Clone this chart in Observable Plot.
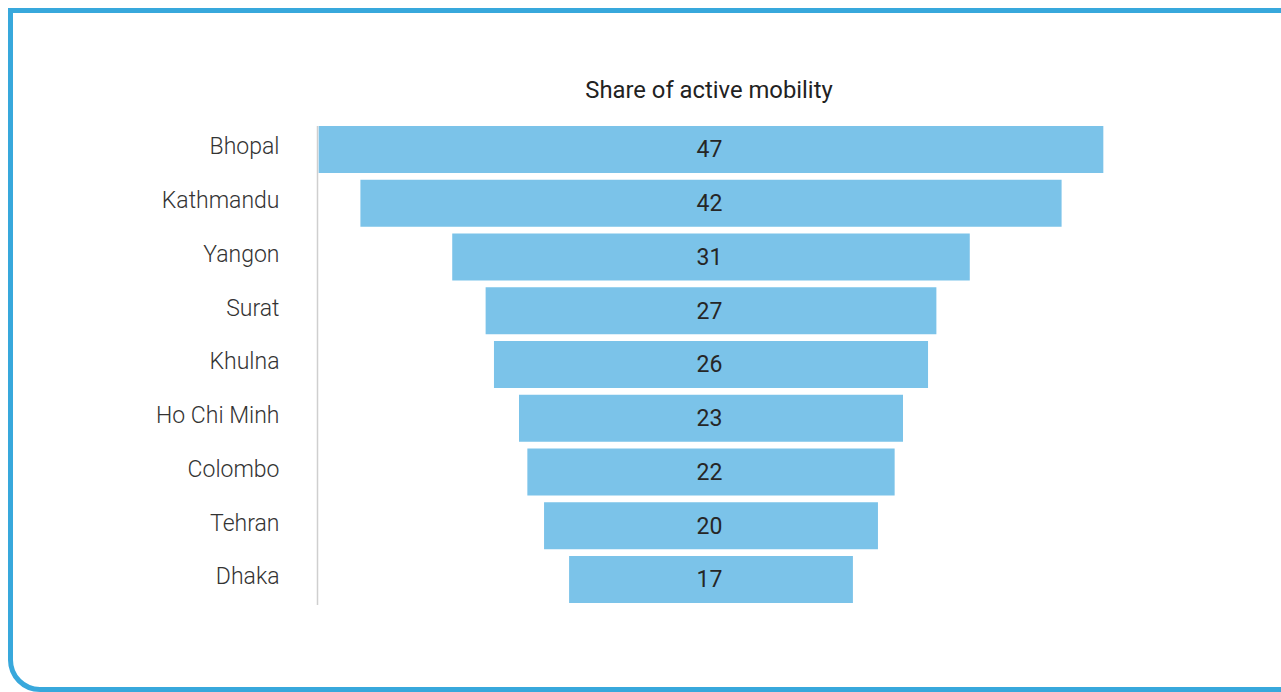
<!DOCTYPE html>
<html>
<head>
<meta charset="utf-8">
<script src="https://cdn.jsdelivr.net/npm/d3@7"></script>
<script src="https://cdn.jsdelivr.net/npm/@observablehq/plot@0.6"></script>
<style>
  html, body { margin: 0; padding: 0; background: #fff; overflow: hidden; }
  body { width: 1281px; height: 692px; position: relative; font-family: Roboto, "Noto Sans", sans-serif; }
  #frame { position: absolute; left: 8px; top: 8px; width: 1300px; height: 684px; box-sizing: border-box;
           border: 5px solid #38a8dc; border-radius: 0 0 0 32px; }
  #title { position: absolute; left: 0; width: 1418px; top: 75px; text-align: center;
           font-size: 23.8px; line-height: 30px; color: #222; font-weight: 400; }
  #chart { position: absolute; left: 0; top: 110px; }
  #chart svg { overflow: visible; }
</style>
</head>
<body>
<div id="frame"></div>
<div id="title">Share of active mobility</div>
<div id="chart"></div>
<script>
const cities = ["Bhopal", "Kathmandu", "Yangon", "Surat", "Khulna", "Ho Chi Minh", "Colombo", "Tehran", "Dhaka"];
const shares = [47, 42, 31, 27, 26, 23, 22, 20, 17];

const data = cities.map((c, i) => ({city: c, share: shares[i]}));
const half = 23.6;

const chart = Plot.plot({
  width: 1281,
  height: 520,
  marginLeft: 317,
  marginRight: 176,
  marginTop: 9.25,
  marginBottom: 20.25,
  style: {fontFamily: "Roboto, 'Noto Sans', sans-serif", background: "transparent"},
  x: {domain: [-half, half], axis: null},
  y: {domain: cities, padding: 0.1256, round: false, label: null},
  marks: [
    Plot.frame({anchor: "left", stroke: "#cfcfcf", strokeWidth: 1.5, insetTop: 7, insetBottom: 6}),
    Plot.barX(data, {y: "city", x1: d => -d.share / 2, x2: d => d.share / 2, fill: "#7bc3e9"}),
    Plot.text(data, {y: "city", x: 0, text: d => String(d.share), fontSize: 23, fill: "#262626", dx: -2}),
    Plot.axisY({tickSize: 0, tickPadding: 38, fontSize: 23, fontWeight: 300, fill: "#333", dy: -3, label: null})
  ]
});
document.getElementById("chart").appendChild(chart);
</script>
</body>
</html>
